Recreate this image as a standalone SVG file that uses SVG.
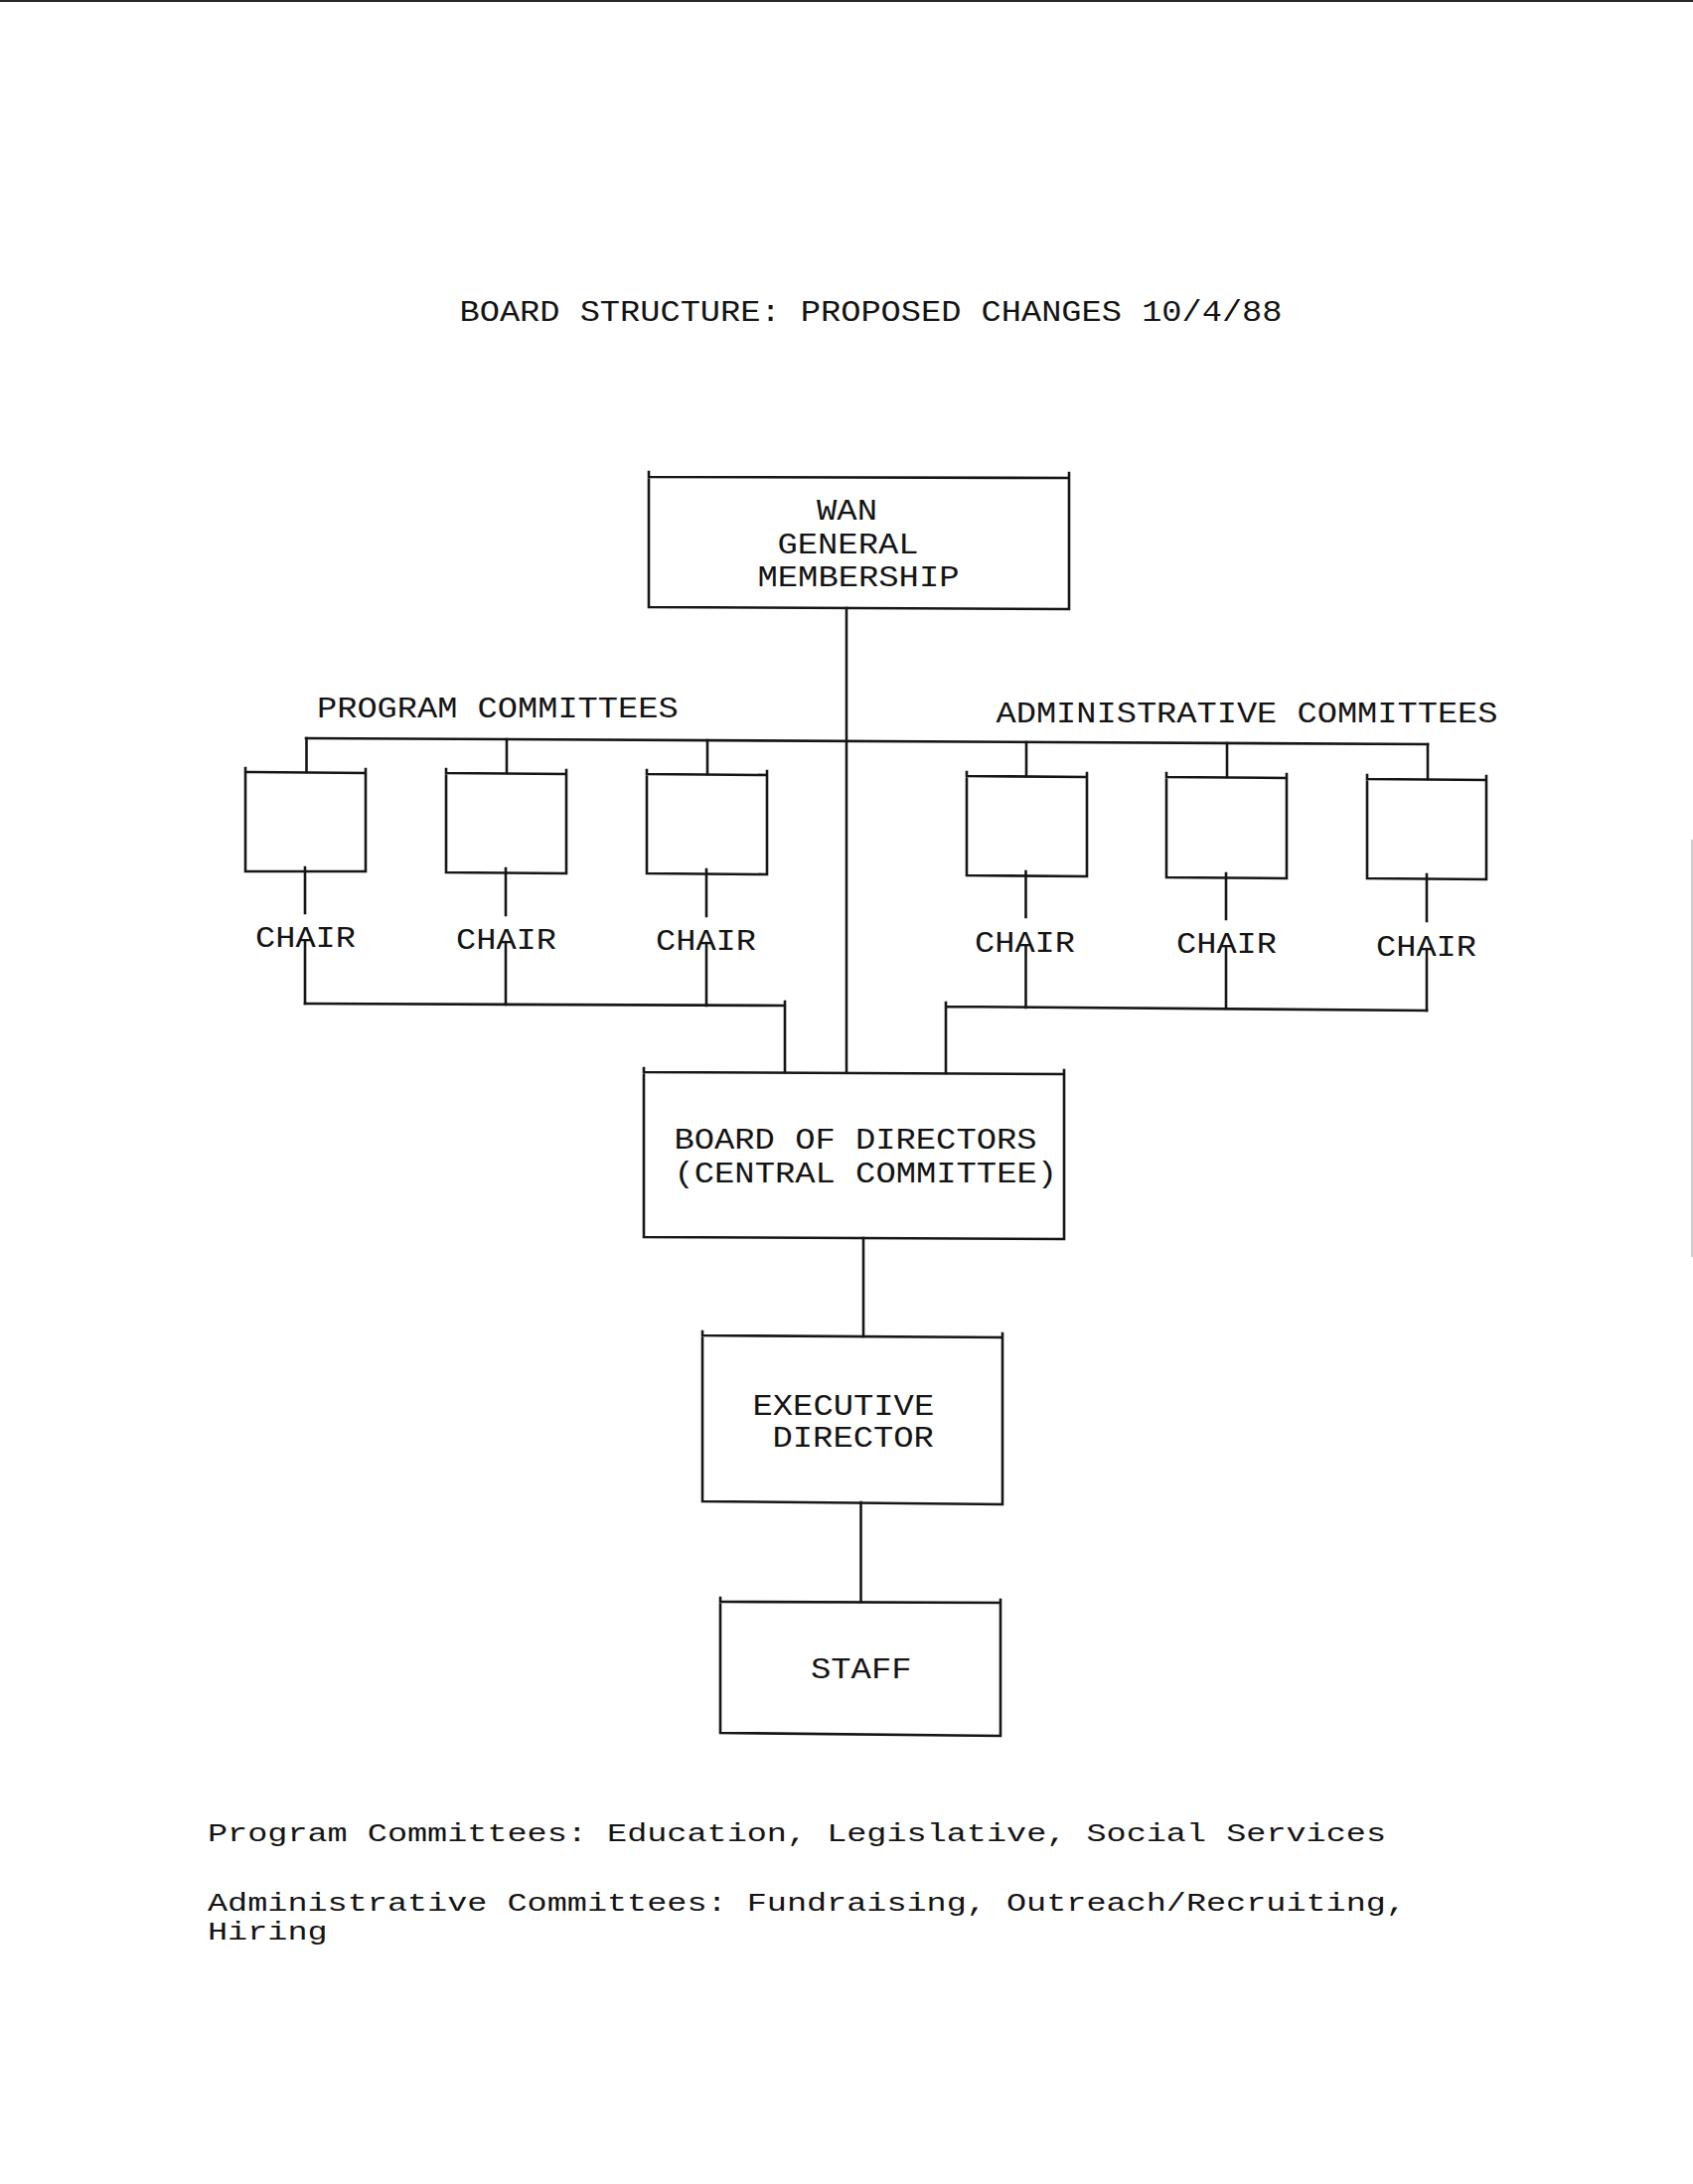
<svg xmlns="http://www.w3.org/2000/svg" width="1704" height="2198" viewBox="0 0 1704 2198">
<style>
.ln{fill:none;stroke:#161616;stroke-width:2.6;stroke-linecap:square}
.t{font-family:"Liberation Mono","DejaVu Sans Mono",monospace;font-size:30px;fill:#141414}
.n{font-family:"Liberation Mono","DejaVu Sans Mono",monospace;font-size:25px;fill:#141414}
</style>
<rect x="0" y="0" width="1704" height="2198" fill="#ffffff"/>
<rect x="0" y="0" width="1704" height="2" fill="#2a2a2a"/>
<line x1="1703" y1="845" x2="1703" y2="1265" stroke="#9a9a9a" stroke-width="1"/>

<g id="title">
<text class="t" x="462.5" y="323" textLength="828" lengthAdjust="spacingAndGlyphs">BOARD STRUCTURE: PROPOSED CHANGES 10/4/88</text>
</g>

<g id="connectors">
<path class="ln" d="M852,612 V1079"/>
<path class="ln" d="M308,743 L1437,749"/>
<path class="ln" d="M308.5,743 V777 M510,744 V778 M712,745 V779 M1033,747 V781 M1235,748 V782 M1437,749 V784"/>
<path class="ln" d="M307,873 V919 M509,874 V921 M711,875 V922 M1032.5,877 V923 M1234,879 V925 M1436,880 V927"/>
<path class="ln" d="M307,947 V1010 M509,948 V1011 M711,949 V1012 M1032.5,952 V1014 M1234,953 V1015 M1436,955 V1017"/>
<path class="ln" d="M307,1010 L790,1012 V1079 M790,1008 V1012"/>
<path class="ln" d="M952,1080 V1013 L1436,1017 M952,1009 V1013"/>
<path class="ln" d="M869,1246 V1345"/>
<path class="ln" d="M866.5,1512 V1612"/>
</g>

<g id="wan-general-membership">
<path class="ln" d="M653,475 V611 L1076,613 V476 M653,480 L1076,481"/>
<text class="t" x="822" y="523" textLength="61" lengthAdjust="spacingAndGlyphs">WAN</text>
<text class="t" x="782.5" y="557" textLength="142" lengthAdjust="spacingAndGlyphs">GENERAL</text>
<text class="t" x="762.5" y="590" textLength="203" lengthAdjust="spacingAndGlyphs">MEMBERSHIP</text>
</g>

<g id="program-committees-label">
<text class="t" x="319" y="722" textLength="363.6" lengthAdjust="spacingAndGlyphs">PROGRAM COMMITTEES</text>
</g>
<g id="administrative-committees-label">
<text class="t" x="1002.5" y="727" textLength="505" lengthAdjust="spacingAndGlyphs">ADMINISTRATIVE COMMITTEES</text>
</g>

<g id="program-committee-1">
<path class="ln" d="M247,773 V877 L368,877 V774 M247,777 L368,778"/>
<text class="t" x="257" y="953" textLength="101" lengthAdjust="spacingAndGlyphs">CHAIR</text>
</g>
<g id="program-committee-2">
<path class="ln" d="M449,774 V878 L570,879 V775 M449,778 L570,779"/>
<text class="t" x="459" y="955" textLength="101" lengthAdjust="spacingAndGlyphs">CHAIR</text>
</g>
<g id="program-committee-3">
<path class="ln" d="M651,775 V879 L772,880 V776 M651,779 L772,780"/>
<text class="t" x="660" y="956" textLength="101" lengthAdjust="spacingAndGlyphs">CHAIR</text>
</g>
<g id="administrative-committee-1">
<path class="ln" d="M973,777 V881 L1094,882 V778 M973,781 L1094,782"/>
<text class="t" x="981" y="958" textLength="101" lengthAdjust="spacingAndGlyphs">CHAIR</text>
</g>
<g id="administrative-committee-2">
<path class="ln" d="M1174,778 V883 L1295,884 V779 M1174,782 L1295,783"/>
<text class="t" x="1184" y="959" textLength="101" lengthAdjust="spacingAndGlyphs">CHAIR</text>
</g>
<g id="administrative-committee-3">
<path class="ln" d="M1376,780 V884 L1496,885 V781 M1376,784 L1496,785"/>
<text class="t" x="1385" y="962" textLength="101" lengthAdjust="spacingAndGlyphs">CHAIR</text>
</g>

<g id="board-of-directors">
<path class="ln" d="M648,1075 V1245 L1071,1247 V1077 M648,1079 L1071,1081"/>
<text class="t" x="678.5" y="1156" textLength="365" lengthAdjust="spacingAndGlyphs">BOARD OF DIRECTORS</text>
<text class="t" x="678.5" y="1189.5" textLength="385.5" lengthAdjust="spacingAndGlyphs">(CENTRAL COMMITTEE)</text>
</g>

<g id="executive-director">
<path class="ln" d="M707,1340 V1511 L1009,1514 V1342 M707,1344 L1009,1346"/>
<text class="t" x="757.5" y="1424" textLength="182.7" lengthAdjust="spacingAndGlyphs">EXECUTIVE</text>
<text class="t" x="777.5" y="1456" textLength="162.4" lengthAdjust="spacingAndGlyphs">DIRECTOR</text>
</g>

<g id="staff">
<path class="ln" d="M725,1608 V1744 L1007,1747 V1610 M725,1612 L1007,1613"/>
<text class="t" x="816" y="1689" textLength="101.5" lengthAdjust="spacingAndGlyphs">STAFF</text>
</g>

<g id="notes">
<text class="n" x="209" y="1853" textLength="1186" lengthAdjust="spacingAndGlyphs">Program Committees: Education, Legislative, Social Services</text>
<text class="n" x="209" y="1923" textLength="1206" lengthAdjust="spacingAndGlyphs">Administrative Committees: Fundraising, Outreach/Recruiting,</text>
<text class="n" x="209" y="1952" textLength="120.6" lengthAdjust="spacingAndGlyphs">Hiring</text>
</g>
</svg>
